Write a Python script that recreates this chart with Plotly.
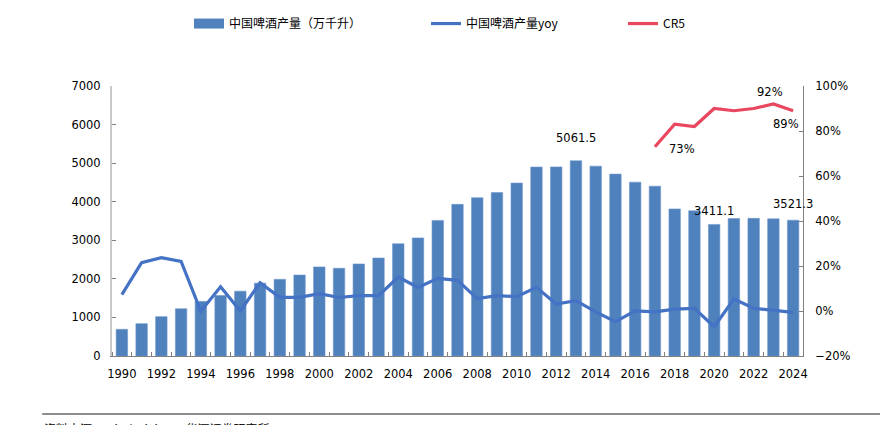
import plotly.graph_objects as go

years = list(range(1990, 2025))
production = [692.2, 838.0, 1020.0, 1225.0, 1415.0, 1568.8, 1681.9, 1888.9, 1987.7, 2098.8,
              2310.0, 2274.0, 2386.8, 2540.5, 2910.0, 3061.6, 3515.1, 3931.4, 4102.8, 4236.4,
              4483.0, 4898.8, 4902.0, 5061.5, 4921.9, 4715.7, 4506.4, 4401.5, 3812.2, 3765.3,
              3411.1, 3562.4, 3568.7, 3555.5, 3521.3]
yoy = [0.073, 0.215, 0.237, 0.220, -0.001, 0.108, 0.000, 0.126, 0.061, 0.061,
       0.077, 0.060, 0.068, 0.068, 0.151, 0.105, 0.145, 0.136, 0.055, 0.068,
       0.064, 0.105, 0.031, 0.046, -0.004, -0.047, 0.001, -0.004, 0.008, 0.012,
       -0.070, 0.053, 0.012, 0.004, -0.006]
cr5_years = [2017, 2018, 2019, 2020, 2021, 2022, 2023, 2024]
cr5 = [0.73, 0.83, 0.82, 0.90, 0.89, 0.90, 0.92, 0.89]

name_bar = "中国啤酒产量（万千升）"
name_yoy = "中国啤酒产量yoy"
name_cr5 = "CR5"
source_text = "资料来源：Wind，iFinD，华源证券研究所"

FONT = "DejaVu Sans"
CJK = "Noto Sans CJK SC"
BAR_COLOR = "#4F81BD"

fig = go.Figure()
fig.add_trace(go.Bar(x=years, y=production, name=name_bar, width=0.58,
                     marker=dict(color=BAR_COLOR, line=dict(color="#6E97CC", width=0.6)),
                     yaxis="y", showlegend=False, legendgroup="bar"))
# legend entry for the bars (wide rectangle swatch like the reference)
fig.add_trace(go.Scatter(x=[None], y=[None], name=name_bar, mode="lines",
                         line=dict(color=BAR_COLOR, width=10), legendgroup="bar",
                         legend="legend", hoverinfo="skip"))
fig.add_trace(go.Scatter(x=years, y=yoy, name=name_yoy, mode="lines",
                         line=dict(color="#4472C4", width=3.2), yaxis="y2",
                         legend="legend2"))
fig.add_trace(go.Scatter(x=cr5_years, y=cr5, name=name_cr5, mode="lines",
                         line=dict(color="#E8475F", width=3.2), yaxis="y2",
                         legend="legend3"))

ann_font = dict(family=FONT, size=11.5, color="#000000")
annotations = [
    dict(x=2013, y=production[years.index(2013)], xref="x", yref="y", text="5061.5",
         showarrow=False, yanchor="bottom", yshift=14, font=ann_font),
    dict(x=2020, y=production[years.index(2020)], xref="x", yref="y", text="3411.1",
         showarrow=False, yanchor="bottom", yshift=4, font=ann_font),
    dict(x=2024, y=production[years.index(2024)], xref="x", yref="y", text="3521.3",
         showarrow=False, yanchor="bottom", yshift=7, font=ann_font),
    dict(x=2017, y=cr5[0], xref="x", yref="y2", text="73%", showarrow=False,
         xshift=27, yshift=-2, font=ann_font),
    dict(x=2023, y=cr5[6], xref="x", yref="y2", text="92%", showarrow=False,
         xshift=-3, yshift=12, font=ann_font),
    dict(x=2024, y=cr5[7], xref="x", yref="y2", text="89%", showarrow=False,
         xshift=-7, yshift=-13, font=ann_font),
    dict(x=-0.101, y=-0.228, xref="paper", yref="paper", text=source_text, showarrow=False,
         xanchor="left", yanchor="top", font=dict(family=CJK, size=12, color="#000000")),
]

leg_common = dict(orientation="h", y=1.285, xanchor="left", yanchor="top",
                  font=dict(family=CJK, size=12, color="#000000"),
                  itemwidth=30, bgcolor="rgba(0,0,0,0)")

fig.update_layout(
    width=880, height=417,
    margin=dict(l=104, r=85, t=78, b=69, autoexpand=False),
    paper_bgcolor="white", plot_bgcolor="white",
    font=dict(family=FONT, size=11, color="#000000"),
    showlegend=True,
    legend=dict(x=0.1114, **leg_common),
    legend2=dict(x=0.4544, **leg_common),
    legend3=dict(x=0.7395, **leg_common),
    xaxis=dict(range=[1989.5, 2024.5], tickmode="array", tickvals=years[::2],
               ticktext=[str(y) for y in years[::2]], showgrid=False,
               showline=True, linecolor="#808080", linewidth=1.2,
               ticks="", ticklabelstandoff=7, tickfont=dict(family=FONT, size=11.5),
               zeroline=False,
               minor=dict(ticks="inside", tick0=1989.5, dtick=1, ticklen=4,
                          tickcolor="#808080", showgrid=False)),
    yaxis=dict(range=[0, 7000], dtick=1000, showgrid=False, showline=True,
               linecolor="#C8C8C8", linewidth=2, ticks="inside", ticklen=4,
               tickcolor="#808080", ticklabelstandoff=7,
               tickfont=dict(family=FONT, size=11.5), zeroline=False),
    yaxis2=dict(range=[-0.2, 1.0], dtick=0.2, tickformat=".0%", overlaying="y",
                side="right", showgrid=False, showline=True, linecolor="#808080",
                linewidth=1, ticks="inside", ticklen=4, tickcolor="#808080",
                ticklabelstandoff=9,
                tickfont=dict(family=FONT, size=11.5), zeroline=False),
    annotations=annotations,
    shapes=[dict(type="line", xref="paper", yref="paper", x0=-0.101, x1=1.13,
                 y0=-0.215, y1=-0.215, line=dict(color="#8C8C8C", width=2))],
)

fig.write_html("out.html")
